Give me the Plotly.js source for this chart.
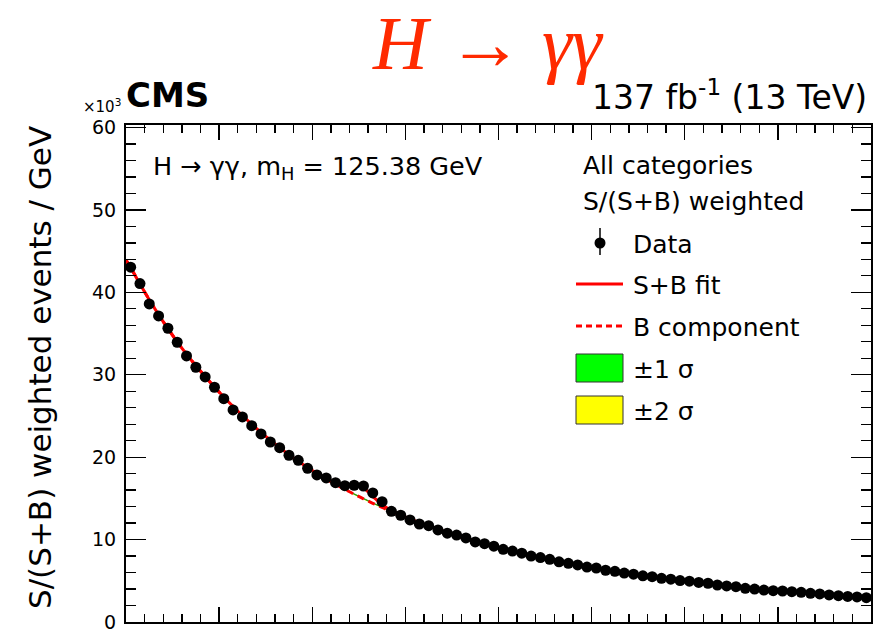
<!DOCTYPE html>
<html>
<head>
<meta charset="utf-8">
<script src="https://cdn.plot.ly/plotly-3.0.1.min.js"></script>
<style>html,body{margin:0;padding:0;background:#fff;}#plot{width:875px;height:636px;}</style>
</head>
<body>
<div id="plot"></div>
<script>
// ---------- data (values in units of 10^3 weighted events / GeV) ----------
const massLow = 100, massHigh = 180;            // GeV, x range
const binCentres = Array.from({length: 80}, (_, i) => 100.5 + i);

const dataValues = [
  43.05, 41.06, 38.59, 37.14, 35.64, 33.94, 32.28, 30.91, 29.73, 28.48,
  27.10, 25.73, 24.88, 23.82, 22.82, 21.84, 21.15, 20.23, 19.62, 18.65,
  17.84, 17.48, 16.91, 16.54, 16.59, 16.50, 15.66, 14.60, 13.43, 12.95,
  12.38, 11.89, 11.69, 11.17, 10.77, 10.55, 10.20, 9.72, 9.50, 9.20,
  8.82, 8.60, 8.35, 8.00, 7.82, 7.60, 7.30, 7.12, 6.92, 6.66,
  6.55, 6.28, 6.15, 5.93, 5.80, 5.60, 5.50, 5.30, 5.20, 5.02,
  4.95, 4.80, 4.70, 4.49, 4.37, 4.28, 4.08, 4.00, 3.88, 3.80,
  3.76, 3.68, 3.60, 3.48, 3.40, 3.28, 3.20, 3.10, 3.04, 2.95
];

// background component read at the frame edges and at every bin centre
const fitMass = [massLow].concat(binCentres, [massHigh]);
const bkgFit = [
  43.9,
  43.0, 41.0, 39.1, 37.3, 35.6, 34.0, 32.5, 31.1, 29.8, 28.5,
  27.3, 26.15, 25.05, 24.0, 23.0, 22.05, 21.15, 20.3, 19.5, 18.75,
  18.05, 17.35, 16.7, 16.1, 15.5, 14.95, 14.4, 13.9, 13.4, 12.95,
  12.5, 12.05, 11.65, 11.25, 10.85, 10.48, 10.12, 9.78, 9.46, 9.15,
  8.86, 8.58, 8.31, 8.05, 7.8, 7.56, 7.33, 7.11, 6.9, 6.7,
  6.5, 6.31, 6.13, 5.96, 5.79, 5.63, 5.48, 5.33, 5.19, 5.05,
  4.92, 4.79, 4.67, 4.55, 4.43, 4.32, 4.21, 4.11, 4.01, 3.91,
  3.78, 3.69, 3.6, 3.51, 3.41, 3.32, 3.24, 3.16, 3.08, 3.0,
  2.96
];
// signal on top of background (S+B - B) around the peak
const sigMass  = [121.5, 122.5, 123.5, 124.5, 125.5, 126.5, 127.5, 128.5, 129.5];
const sigValue = [0.04, 0.15, 0.45, 1.05, 1.30, 0.85, 0.35, 0.10, 0.03];
// uncertainty band half-widths on the background
const band1Half = 0.06, band2Half = 0.09;

const yTickVals = [0, 10, 20, 30, 40, 50, 60];

// ---------- derived ----------
const sbFit = fitMass.map((m, i) => {
  const k = sigMass.indexOf(m);
  return bkgFit[i] + (k >= 0 ? sigValue[k] : 0);
});
const b2lo = bkgFit.map(v => v - band2Half), b2hi = bkgFit.map(v => v + band2Half);
const b1lo = bkgFit.map(v => v - band1Half), b1hi = bkgFit.map(v => v + band1Half);

// ---------- layout helpers (pixel -> paper) ----------
const L = 126, R = 4, T = 125, B = 14, W = 875, H = 636;
const PW = W - L - R, PH = H - T - B;
const X = px => (px - L) / PW;
const Y = py => (H - B - py) / PH;

const FONT = 'DejaVu Sans';
const red = '#ff0000';

const traces = [
  {x: fitMass, y: b2lo, mode: 'lines', line: {width: 0, color: 'rgba(0,0,0,0)', shape: 'spline'}, hoverinfo: 'skip'},
  {x: fitMass, y: b2hi, mode: 'lines', fill: 'tonexty', fillcolor: '#ffff00', line: {width: 0, color: '#ffff00', shape: 'spline'}, hoverinfo: 'skip'},
  {x: fitMass, y: b1lo, mode: 'lines', line: {width: 0, color: 'rgba(0,0,0,0)', shape: 'spline'}, hoverinfo: 'skip'},
  {x: fitMass, y: b1hi, mode: 'lines', fill: 'tonexty', fillcolor: '#1f9a1f', line: {width: 0.8, color: '#1f8a1f', shape: 'spline'}, hoverinfo: 'skip'},
  {x: fitMass, y: bkgFit, mode: 'lines', line: {color: red, width: 3, dash: '7px,5px', shape: 'spline'}},
  {x: fitMass, y: sbFit, mode: 'lines', line: {color: red, width: 3, shape: 'spline'}},
  {x: binCentres, y: dataValues, mode: 'markers', marker: {color: '#000', size: 11}}
];

const legendRows = [
  {text: 'Data', y: 243},
  {text: 'S+B fit', y: 284},
  {text: 'B component', y: 326},
  {text: '±1 σ', y: 368},
  {text: '±2 σ', y: 410}
];

const annotations = [
  {text: '<i>H</i> → <i>γγ</i>', xref: 'paper', yref: 'paper', x: X(488), y: Y(0), xanchor: 'center', yanchor: 'top',
   height: 84, valign: 'top', borderpad: 0,
   showarrow: false, font: {family: 'Liberation Serif', size: 76, color: '#ff2a00'}},
  {text: '<b>CMS</b>', xref: 'paper', yref: 'paper', x: X(124), y: Y(95), xanchor: 'left', yanchor: 'middle',
   showarrow: false, font: {family: FONT, size: 34, color: '#000'}},
  {text: '137 fb<sup>-1</sup> (13 TeV)', xref: 'paper', yref: 'paper', x: X(869), y: Y(96), xanchor: 'right', yanchor: 'middle',
   showarrow: false, font: {family: FONT, size: 33, color: '#000'}},
  {text: '×10<sup>3</sup>', xref: 'paper', yref: 'paper', x: X(123), y: Y(106), xanchor: 'right', yanchor: 'middle',
   showarrow: false, font: {family: FONT, size: 15, color: '#000'}},
  {text: 'S/(S+B) weighted events / GeV', xref: 'paper', yref: 'paper', x: X(40), y: Y(368), xanchor: 'center', yanchor: 'middle',
   textangle: -90, showarrow: false, font: {family: FONT, size: 31, color: '#000'}},
  {text: 'H → γγ, m<sub>H</sub> = 125.38 GeV', xref: 'paper', yref: 'paper', x: X(151), y: Y(167), xanchor: 'left', yanchor: 'middle',
   showarrow: false, font: {family: FONT, size: 25.5, color: '#000'}},
  {text: 'All categories', xref: 'paper', yref: 'paper', x: X(581), y: Y(165), xanchor: 'left', yanchor: 'middle',
   showarrow: false, font: {family: FONT, size: 25, color: '#000'}},
  {text: 'S/(S+B) weighted', xref: 'paper', yref: 'paper', x: X(581), y: Y(201), xanchor: 'left', yanchor: 'middle',
   showarrow: false, font: {family: FONT, size: 25, color: '#000'}}
].concat(legendRows.map(r => ({
  text: r.text, xref: 'paper', yref: 'paper', x: X(631), y: Y(r.y + 1), xanchor: 'left', yanchor: 'middle',
  showarrow: false, font: {family: FONT, size: 25, color: '#000'}
})));

const shapes = [
  // Data symbol
  {type: 'line', xref: 'paper', yref: 'paper', x0: X(600), x1: X(600), y0: Y(228), y1: Y(255), line: {color: '#000', width: 1.5}},
  {type: 'circle', xref: 'paper', yref: 'paper', x0: X(594.5), x1: X(605.5), y0: Y(237.5), y1: Y(248.5), fillcolor: '#000', line: {color: '#000', width: 0}},
  // S+B fit
  {type: 'line', xref: 'paper', yref: 'paper', x0: X(576), x1: X(623), y0: Y(284), y1: Y(284), line: {color: red, width: 3}},
  // B component
  {type: 'line', xref: 'paper', yref: 'paper', x0: X(576), x1: X(623), y0: Y(326), y1: Y(326), line: {color: red, width: 3, dash: '6px,4px'}},
  // bands
  {type: 'rect', xref: 'paper', yref: 'paper', x0: X(576), x1: X(623), y0: Y(382), y1: Y(354), fillcolor: '#00ff00', line: {color: '#333', width: 1}},
  {type: 'rect', xref: 'paper', yref: 'paper', x0: X(576), x1: X(623), y0: Y(424), y1: Y(396), fillcolor: '#ffff00', line: {color: '#333', width: 1}}
];

const axisCommon = {
  showgrid: false, zeroline: false, showline: true, linecolor: '#000', linewidth: 2,
  mirror: 'allticks', ticks: 'inside', tickcolor: '#000', tickwidth: 1.3
};

const layout = {
  width: W, height: H,
  margin: {l: L, r: R, t: T, b: B},
  paper_bgcolor: '#fff', plot_bgcolor: '#fff',
  showlegend: false,
  xaxis: Object.assign({}, axisCommon, {
    range: [massLow, massHigh], tick0: 100, dtick: 10, ticklen: 15, showticklabels: false,
    minor: {dtick: 2, ticks: 'inside', ticklen: 8, tickcolor: '#000', tickwidth: 1.3, showgrid: false}
  }),
  yaxis: Object.assign({}, axisCommon, {
    range: [0, 60.3], tickvals: yTickVals, ticklen: 20, ticklabelstandoff: 4,
    tickfont: {family: FONT, size: 19, color: '#000'},
    minor: {dtick: 2, ticks: 'inside', ticklen: 10, tickcolor: '#000', tickwidth: 1.3, showgrid: false}
  }),
  annotations: annotations,
  shapes: shapes
};

Plotly.newPlot('plot', traces, layout, {staticPlot: true, displayModeBar: false});
</script>
</body>
</html>
